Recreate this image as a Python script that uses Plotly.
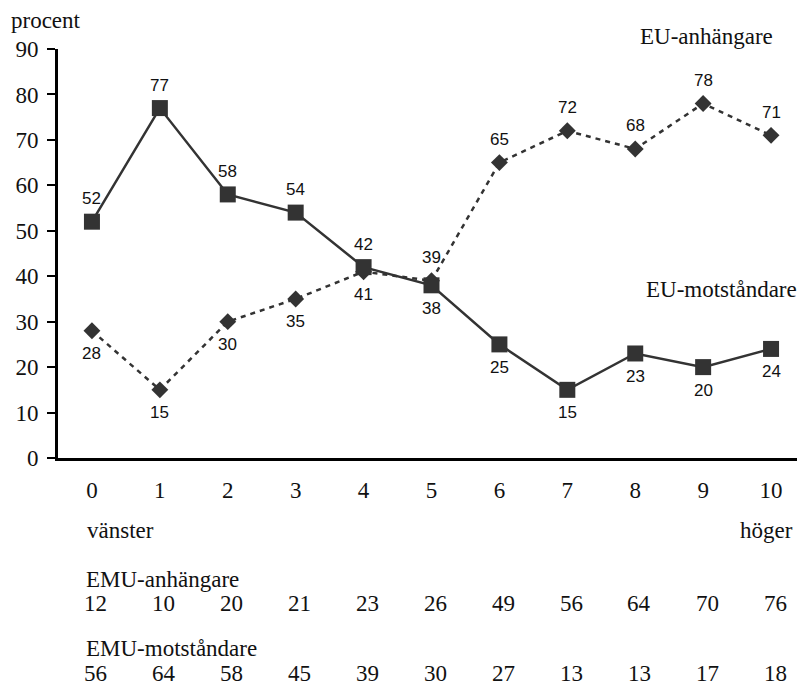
import plotly.graph_objects as go

x_pos = list(range(11))
x_labels = [str(i) for i in x_pos]
eu_mot = [52, 77, 58, 54, 42, 38, 25, 15, 23, 20, 24]
eu_anh = [28, 15, 30, 35, 41, 39, 65, 72, 68, 78, 71]
mot_label_pos = ["above"] * 5 + ["below"] * 6
anh_label_pos = ["below"] * 5 + ["above"] * 6
emu_anh = [12, 10, 20, 21, 23, 26, 49, 56, 64, 70, 76]
emu_mot = [56, 64, 58, 45, 39, 30, 27, 13, 13, 17, 18]
y_ticks = [0, 10, 20, 30, 40, 50, 60, 70, 80, 90]

SERIF = "Liberation Serif, Times New Roman, serif"
SANS = "Liberation Sans, Arial, sans-serif"
COL = "#333333"
TXT = "#111111"
FS = 23

fig = go.Figure()
fig.add_trace(go.Scatter(
    x=x_pos, y=eu_anh, mode="lines+markers",
    line=dict(color=COL, width=2.5, dash="5px,5px"),
    marker=dict(symbol="diamond", size=13, color=COL),
    showlegend=False))
fig.add_trace(go.Scatter(
    x=x_pos, y=eu_mot, mode="lines+markers",
    line=dict(color=COL, width=2.5),
    marker=dict(symbol="square", size=16, color=COL),
    showlegend=False))

ann = []
for xs, ys, ps in [(x_pos, eu_mot, mot_label_pos), (x_pos, eu_anh, anh_label_pos)]:
    for xi, yi, pi in zip(xs, ys, ps):
        ann.append(dict(x=xi, y=yi, text=str(yi), showarrow=False,
                        yshift=23 if pi == "above" else -23,
                        font=dict(family=SANS, size=17, color=TXT)))

for xi, v in zip(x_pos, emu_anh):
    ann.append(dict(x=xi, xref="x", y=0, yref="paper", yshift=-145, xshift=4,
                    yanchor="middle", text=str(v), showarrow=False,
                    font=dict(family=SERIF, size=FS, color=TXT)))
for xi, v in zip(x_pos, emu_mot):
    ann.append(dict(x=xi, xref="x", y=0, yref="paper", yshift=-215, xshift=4,
                    yanchor="middle", text=str(v), showarrow=False,
                    font=dict(family=SERIF, size=FS, color=TXT)))

def ptext(text, x, y, xanchor="left"):
    return dict(x=x, y=y, xref="paper", yref="paper", text=text, showarrow=False,
                xanchor=xanchor, yanchor="middle",
                font=dict(family=SERIF, size=FS, color=TXT))

# page coords: plot x from 58 to 805 px, y from 49 (top) to 458 (bottom)
def px(X):
    return (X - 58) / (805 - 58)
def py(Y):
    return (458 - Y) / (458 - 49)

ann += [
    ptext("procent", px(9), py(20)),
    ptext("EU-anhängare", px(638), py(36)),
    ptext("EU-motståndare", px(644), py(289)),
    ptext("vänster", px(85), py(530)),
    ptext("höger", px(795), py(530), xanchor="right"),
    ptext("EMU-anhängare", px(84), py(579)),
    ptext("EMU-motståndare", px(84), py(648)),
]

# the page body has an 8px margin, so the figure is 8px smaller and offset
fig.update_layout(
    width=797, height=679,
    margin=dict(l=50, r=0, t=41, b=229),
    plot_bgcolor="white", paper_bgcolor="white",
    annotations=ann,
    xaxis=dict(range=[-0.5, 10.5], tickvals=x_pos, ticktext=x_labels,
               showline=True, linecolor="black", linewidth=3,
               showgrid=False, zeroline=False, ticks="",
               ticklabelstandoff=9,
               tickfont=dict(family=SERIF, size=FS, color=TXT)),
    yaxis=dict(range=[0, 90], tickvals=y_ticks,
               showline=True, linecolor="black", linewidth=3,
               showgrid=False, zeroline=False, ticks="outside",
               ticklen=8, tickwidth=2, tickcolor="black",
               ticklabelstandoff=4,
               tickfont=dict(family=SERIF, size=FS, color=TXT)),
)

fig.write_html("out.html")
